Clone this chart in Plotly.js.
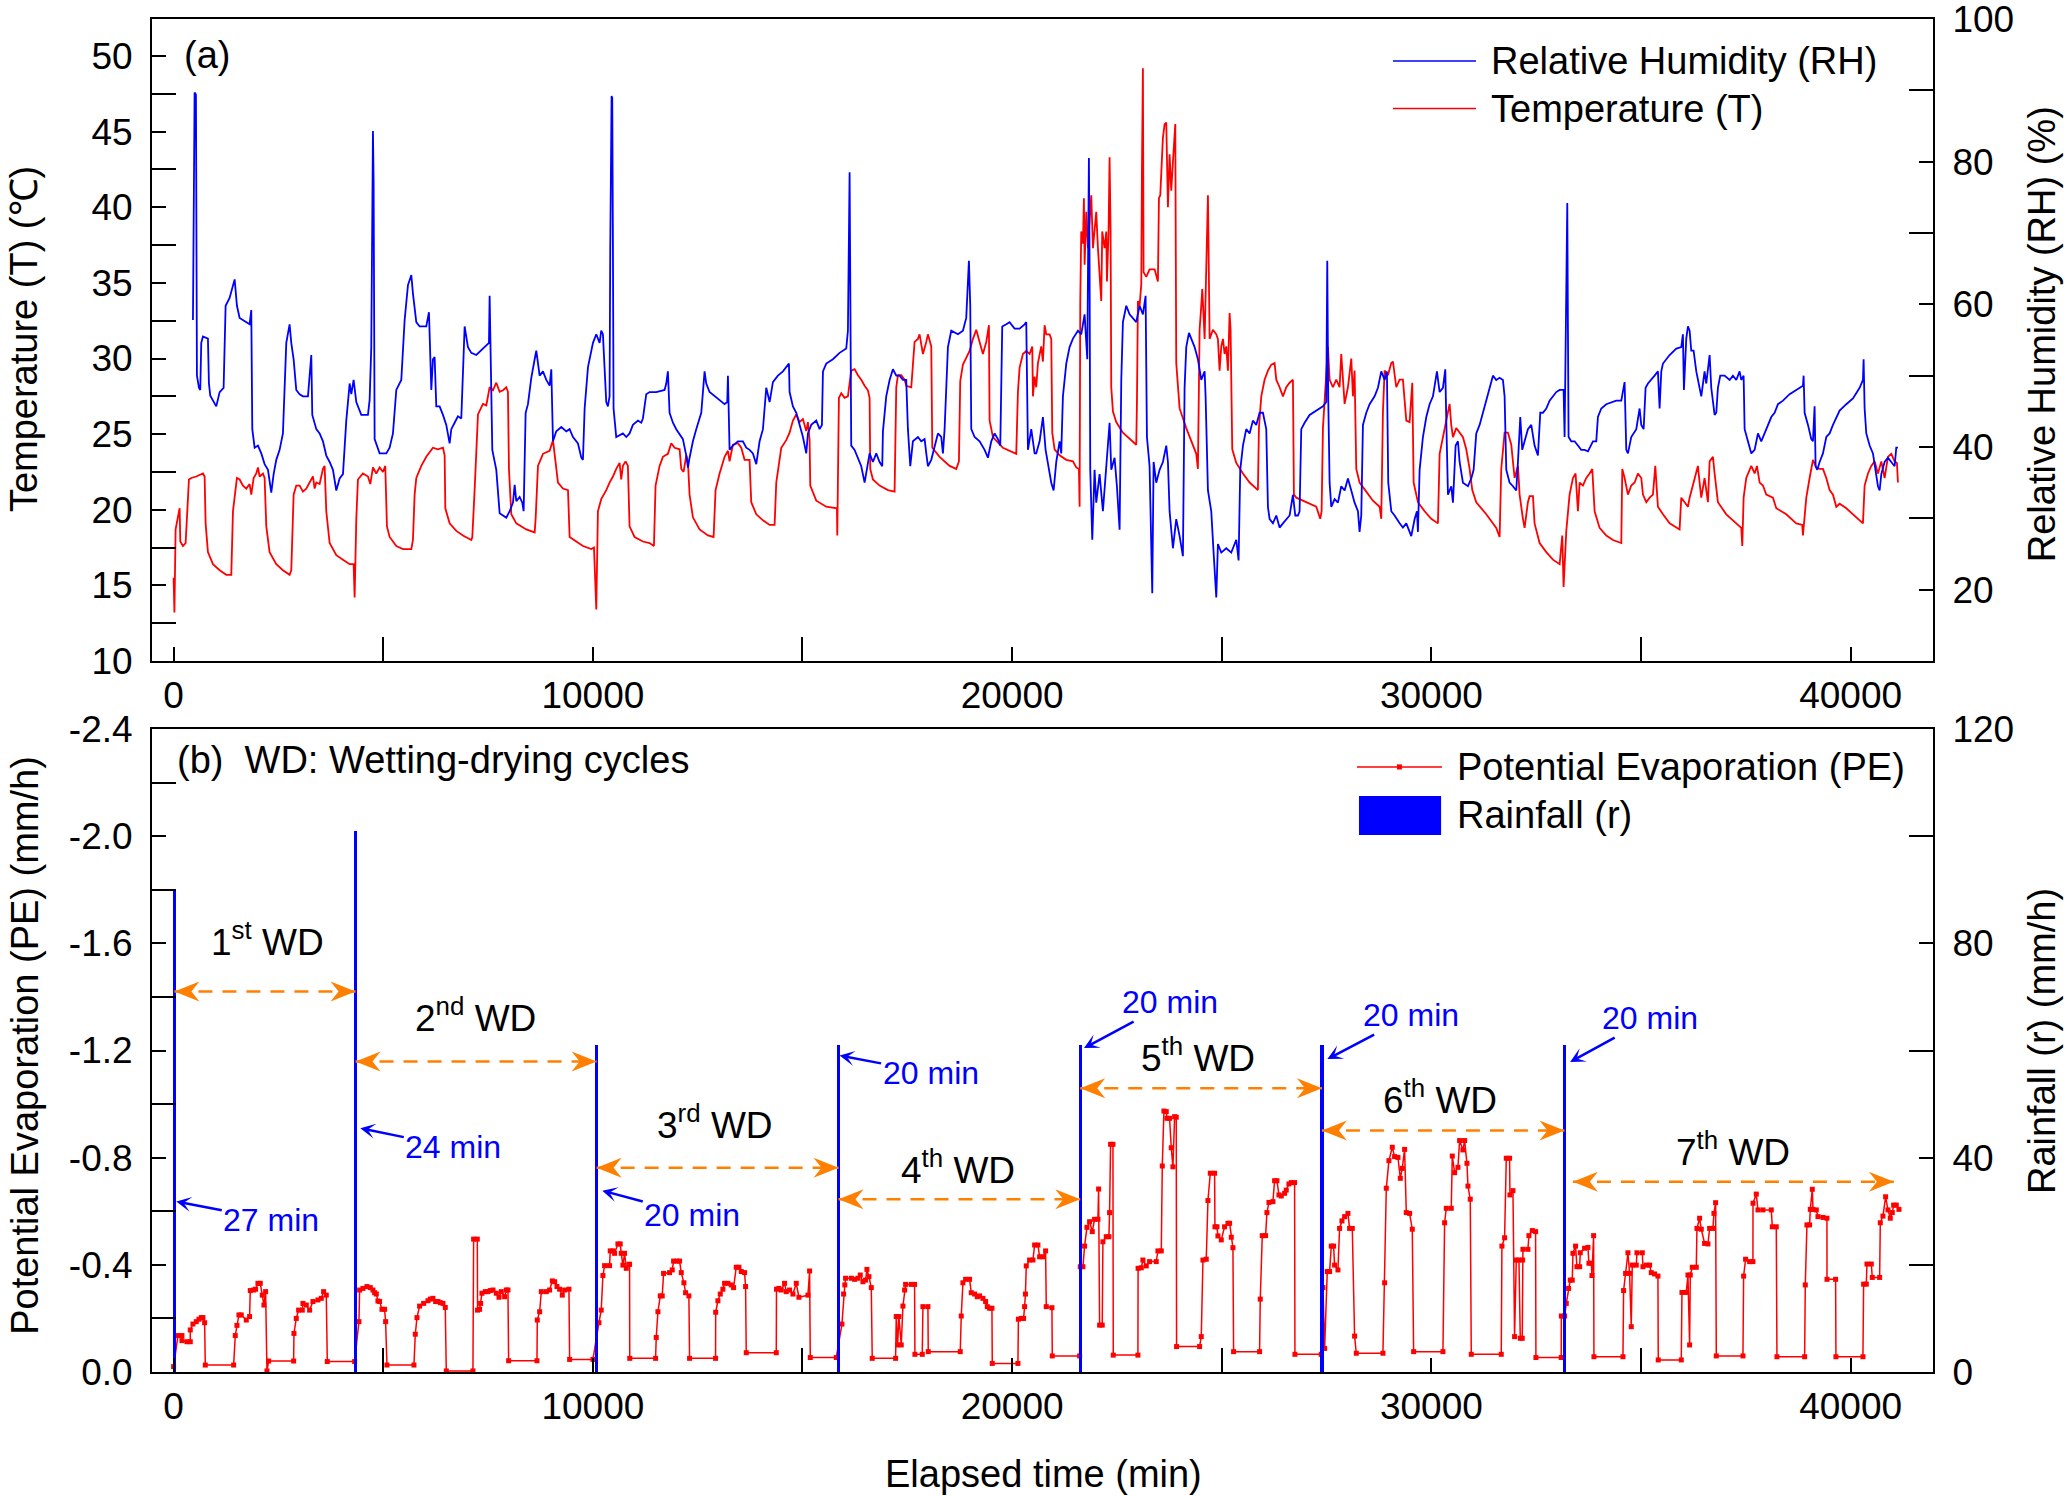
<!DOCTYPE html>
<html>
<head>
<meta charset="utf-8">
<script src="https://cdn.plot.ly/plotly-3.0.1.min.js"></script>
<style>
  body { margin: 0; background: #fff; }
  #chart { width: 2067px; height: 1496px; }
</style>
</head>
<body>
<div id="chart"></div>
<script>
// readings taken off the figure: [elapsed time (min), value]
var tempReadings = [
[0,15.5],[20,13.2],[48,18.7],[104,19.5],[144,20.1],[160,17.9],[223,17.6],[287,17.8],[318,19.5],[366,22.0],[422,22.1],[541,22.2],[700,22.4],[740,22.2],[764,19.1],[819,17.2],[939,16.4],[1098,16.0],[1257,15.7],[1376,15.7],[1416,19.9],[1511,22.1],[1575,22.0],[1654,21.6],[1734,21.4],[1813,21.7],[1853,21.0],[1909,22.1],[1972,22.4],[2012,22.8],[2052,22.2],[2131,22.4],[2171,22.1],[2211,18.9],[2290,17.2],[2449,16.4],[2608,16.0],[2767,15.7],[2807,16.0],[2863,21.0],[2926,21.6],[3006,21.6],[3085,21.2],[3165,21.4],[3244,21.8],[3324,22.2],[3364,21.4],[3404,21.8],[3483,21.7],[3563,22.7],[3602,22.9],[3642,19.9],[3722,17.8],[3881,17.0],[4040,16.7],[4199,16.4],[4294,16.4],[4318,14.2],[4358,19.4],[4397,22.0],[4516,22.4],[4636,22.2],[4692,21.7],[4755,22.8],[4835,22.4],[4914,22.8],[4994,22.5],[5049,22.9],[5089,18.9],[5153,18.2],[5312,17.6],[5471,17.4],[5670,17.4],[5709,18.0],[5749,21.0],[5789,22.1],[5908,22.9],[6027,23.5],[6186,24.1],[6306,24.0],[6425,24.1],[6465,23.6],[6481,20.1],[6584,19.1],[6743,18.6],[6902,18.3],[7101,18.0],[7125,18.2],[7180,21.3],[7260,26.3],[7379,27.0],[7459,26.9],[7538,28.1],[7618,27.9],[7697,28.4],[7777,27.8],[7856,27.9],[7936,28.1],[7975,27.8],[7999,22.7],[8055,19.7],[8174,19.1],[8413,18.7],[8612,18.5],[8635,19.4],[8691,22.9],[8810,23.7],[8969,23.9],[9049,24.6],[9112,23.2],[9168,21.8],[9287,21.4],[9407,21.3],[9446,18.2],[9605,17.9],[9764,17.6],[9963,17.4],[10027,17.5],[10082,13.4],
[10121,19.9],[10200,20.7],[10320,21.3],[10399,21.8],[10479,22.2],[10558,22.7],[10638,23.1],[10677,22.0],[10717,22.9],[10781,23.2],[10836,22.9],[10876,18.9],[10995,18.2],[11194,17.9],[11353,17.8],[11457,17.6],[11496,21.6],[11592,22.9],[11671,23.5],[11790,23.7],[11870,24.4],[11950,24.1],[12069,24.0],[12109,22.7],[12164,22.5],[12228,23.6],[12268,23.2],[12307,21.0],[12387,19.5],[12546,18.7],[12745,18.3],[12880,18.2],[12927,21.3],[13023,22.4],[13142,23.5],[13222,23.9],[13261,23.2],[13341,24.3],[13460,24.4],[13540,24.1],[13619,23.3],[13738,23.3],[13778,20.5],[13898,19.7],[14057,19.3],[14216,19.0],[14335,19.0],[14375,21.8],[14494,24.1],[14613,24.6],[14693,25.1],[14772,25.9],[14852,26.3],[14931,25.8],[15011,26.0],[15090,25.2],[15130,25.8],[15170,24.6],[15186,21.6],[15329,20.6],[15567,20.2],[15822,20.1],[15830,18.3],[15869,27.4],[15925,27.7],[16004,27.4],[16084,27.5],[16163,29.2],[16243,29.3],[16323,28.9],[16402,28.6],[16482,28.2],[16561,27.9],[16601,27.4],[16617,22.7],[16680,22.0],[16839,21.6],[17038,21.3],[17197,21.2],[17237,28.1],[17277,28.9],[17356,28.9],[17436,28.6],[17475,28.2],[17595,28.1],[17674,31.1],[17754,31.3],[17793,31.6],[17873,30.3],[17953,31.1],[17992,31.6],[18072,30.8],[18096,24.1],[18271,23.5],[18509,22.9],[18668,22.7],[18732,23.2],[18763,28.5],[18827,29.6],[18986,30.5],[19066,31.3],[19145,31.9],[19225,31.1],[19304,30.3],[19384,31.1],[19447,32.2],[19463,25.9],[19543,24.8],[19781,24.1],[19940,23.9],[20099,23.7],[20139,27.8],[20179,29.4],[20258,30.3],[20338,30.5],[20417,30.3],[20481,30.8],
[20497,27.5],[20536,28.8],[20576,28.1],[20616,29.7],[20695,30.8],[20735,29.8],[20775,32.2],[20815,31.6],[20894,31.6],[20934,31.3],[20958,25.1],[21013,24.0],[21133,23.6],[21292,23.3],[21451,23.2],[21530,22.8],[21594,22.7],[21610,20.2],[21626,33.8],[21649,38.4],[21689,37.6],[21713,40.6],[21729,36.2],[21769,39.7],[21808,37.3],[21848,38.9],[21888,40.8],[21928,37.3],[21967,38.7],[22007,39.7],[22047,37.3],[22087,35.7],[22126,33.8],[22150,38.4],[22206,37.3],[22246,38.4],[22262,35.1],[22301,38.4],[22325,43.3],[22349,38.4],[22365,28.1],[22405,26.5],[22484,25.8],[22643,25.1],[22802,24.7],[22961,24.3],[22977,27.0],[23001,33.8],[23041,33.5],[23081,34.9],[23097,42.5],[23120,49.2],[23136,35.7],[23200,35.4],[23279,35.9],[23399,35.9],[23438,35.5],[23478,35.1],[23502,40.6],[23534,40.8],[23597,44.6],[23637,45.5],[23677,45.6],[23717,40.0],[23756,43.5],[23796,41.1],[23836,43.0],[23892,45.5],[23915,29.7],[23995,26.7],[24154,25.4],[24313,24.3],[24393,23.7],[24432,22.7],[24456,30.8],[24472,31.9],[24512,33.5],[24536,34.6],[24592,31.3],[24631,36.2],[24671,40.8],[24711,31.3],[24790,31.9],[24870,31.6],[24909,31.3],[24949,29.2],[24989,30.8],[25029,31.3],[25068,30.3],[25108,30.8],[25148,29.2],[25188,33.0],[25211,31.9],[25251,24.0],[25347,23.1],[25506,22.4],[25665,21.8],[25863,21.3],[25887,25.4],[25943,27.5],[26022,28.6],[26102,29.2],[26182,29.6],[26261,29.7],[26301,28.6],[26380,28.1],[26460,27.5],[26539,28.1],[26619,28.4],[26698,28.6],[26722,21.0],[26778,20.8],[26937,20.6],[27096,20.4],[27255,20.2],[27350,19.4],[27382,19.9],[27414,25.4],[27493,29.2],[27533,30.8],[27573,28.6],[27652,28.1],[27732,28.6],[27811,28.1],[27851,30.3],[27931,27.0],[28010,28.1],[28090,30.0],[28129,27.5],[28169,29.2],[28209,22.7],[28288,21.8],[28447,21.2],[28606,20.6],[28766,20.2],[28805,19.4],[28845,26.5],[28885,29.2],[28964,28.9],[29044,29.7],[29084,29.8],[29163,28.1],[29243,28.6],[29322,28.6],[29402,25.9],[29481,25.8],[29545,28.4],[29577,21.8],[29680,20.5],[29839,19.9],[29998,19.4],[30157,19.1],[30197,23.7],[30276,24.8],[30356,25.9],[30435,27.0],[30475,25.6],[30515,24.8],[30594,25.4],[30674,25.1],[30753,24.8],[30833,24.0],[30912,22.7],[30976,21.3],[31071,20.5],
[31310,19.7],[31548,18.8],[31628,18.2],[31667,22.7],[31747,25.1],[31826,25.1],[31906,24.3],[31985,22.1],[32065,22.9],[32105,21.0],[32184,19.4],[32224,18.8],[32303,20.5],[32343,20.9],[32423,20.9],[32462,19.1],[32582,17.8],[32741,17.2],[32900,16.7],[33060,16.4],[33122,18.3],[33154,14.9],[33218,18.6],[33297,21.0],[33377,22.1],[33440,22.4],[33496,19.9],[33536,21.8],[33615,21.6],[33695,22.1],[33774,22.4],[33838,22.7],[33894,19.9],[34013,18.8],[34172,18.3],[34331,18.0],[34530,17.8],[34554,22.7],[34609,22.1],[34689,21.0],[34768,21.6],[34848,21.8],[34927,22.4],[35007,22.1],[35047,21.0],[35126,20.5],[35206,20.8],[35285,21.0],[35341,22.9],[35404,20.2],[35524,19.7],[35683,19.1],[35921,18.7],[35961,20.8],[36040,20.5],[36120,20.2],[36160,20.8],[36279,22.1],[36358,22.9],[36398,21.8],[36438,20.8],[36517,22.1],[36597,20.5],[36637,23.2],[36716,23.5],[36756,22.4],[36835,20.5],[37034,19.7],[37273,19.1],[37392,18.8],[37416,17.6],[37448,20.8],[37511,22.1],[37631,22.9],[37710,22.4],[37766,22.9],[37830,21.8],[37909,21.6],[37988,21.0],[38068,20.9],[38147,20.8],[38227,20.1],[38465,19.7],[38704,19.1],[38847,19.0],[38863,18.3],[38943,20.8],[39022,22.1],[39102,23.3],[39181,22.8],[39261,22.7],[39340,22.7],[39420,22.1],[39499,21.3],[39579,21.0],[39658,20.2],[39738,20.4],[39897,20.1],[40056,19.7],[40215,19.3],[40294,19.1],[40334,21.6],[40414,22.4],[40493,22.9],[40573,23.2],[40652,22.4],[40732,23.2],[40811,22.1],[40891,23.5],[40970,23.7],[41050,23.2],[41105,23.1],[41129,21.8]
];

var rhReadings = [
[462,57.8],[485,77.6],[501,89.7],[533,89.4],[541,59.8],[557,50.0],[605,48.3],[636,48.0],[660,54.6],[700,55.5],[819,55.2],[843,48.9],[875,47.2],[939,46.6],[1018,45.7],[1098,47.7],[1193,48.3],[1241,59.8],[1336,60.9],[1456,63.5],[1511,59.8],[1575,58.1],[1734,57.5],[1813,57.2],[1853,59.2],[1877,42.5],[1933,39.9],[2012,40.2],[2092,39.1],[2171,37.6],[2251,36.8],[2330,33.6],[2386,36.2],[2449,38.2],[2529,39.6],[2608,41.9],[2688,54.6],[2767,57.2],[2807,54.6],[2863,52.3],[2926,48.0],[3006,47.4],[3085,47.1],[3205,47.1],[3284,52.9],[3308,44.5],[3404,42.5],[3483,41.9],[3563,40.8],[3642,38.8],[3722,37.9],[3801,36.8],[3881,33.9],[3960,35.6],[4040,36.2],[4119,43.7],[4199,48.9],[4239,47.4],[4294,49.4],[4358,46.3],[4477,44.5],[4636,44.5],[4676,46.6],[4715,54.0],[4755,84.3],[4771,77.1],[4795,41.1],[4914,39.1],[5073,39.1],[5153,39.9],[5232,41.9],[5312,48.0],[5431,49.4],[5511,57.8],[5590,62.7],[5670,64.1],[5709,61.5],[5789,57.5],[5868,56.9],[6027,56.9],[6091,58.9],[6147,48.0],[6186,52.3],[6226,52.6],[6266,45.7],[6345,45.7],[6425,44.5],[6504,43.1],[6584,40.5],[6624,42.5],[6703,43.4],[6782,44.3],[6862,44.0],[6902,51.2],[6942,56.9],[7021,54.0],[7101,53.2],[7220,52.9],[7379,53.8],[7522,54.6],[7538,61.2],[7554,54.0],[7602,39.6],[7697,36.8],[7777,30.7],[7856,30.4],[7936,30.1],[8016,31.0],[8095,32.2],[8135,34.7],[8174,32.4],[8254,33.0],[8317,32.2],[8349,31.0],[8397,44.8],[8452,46.0],[8532,49.7],[8612,52.3],[8651,53.5],[8731,50.0],[8810,50.6],[8890,49.4],[8969,48.6],[9009,50.9],[9049,40.8],[9128,42.2],[9248,42.8],[9367,42.2],[9446,42.5],[9526,41.4],[9645,40.5],[9725,38.5],[9764,38.2],[9804,45.4],[9884,51.2],[10003,54.6],[10082,55.8],
[10161,54.6],[10200,56.3],[10240,55.8],[10280,50.9],[10320,46.3],[10359,45.7],[10399,47.1],[10415,67.9],[10447,89.2],[10463,88.9],[10479,67.9],[10494,45.4],[10558,41.4],[10638,41.7],[10717,41.9],[10797,41.4],[10876,41.9],[10956,43.1],[11075,43.7],[11154,43.4],[11194,44.0],[11274,47.4],[11353,47.7],[11512,47.7],[11711,48.0],[11751,48.9],[11790,50.6],[11830,44.8],[11910,43.4],[11989,42.5],[12069,41.7],[12148,41.1],[12228,38.8],[12268,37.1],[12307,38.5],[12387,40.8],[12466,42.5],[12586,44.8],[12665,50.6],[12705,48.9],[12784,47.7],[12904,47.1],[13023,46.6],[13142,46.0],[13206,46.3],[13222,50.0],[13261,39.6],[13341,40.2],[13460,40.8],[13579,40.8],[13659,39.9],[13738,39.6],[13818,39.1],[13898,37.6],[13977,40.8],[14057,42.5],[14136,48.3],[14216,46.3],[14295,49.1],[14414,50.0],[14534,50.6],[14613,51.2],[14677,51.7],[14693,47.7],[14772,45.7],[14852,44.8],[14931,43.1],[15011,41.4],[15090,39.1],[15130,41.9],[15209,43.1],[15329,43.7],[15408,42.5],[15464,43.1],[15488,50.6],[15567,51.7],[15726,52.3],[15885,53.2],[16044,53.8],[16084,56.3],[16124,78.5],[16140,55.2],[16163,40.2],[16243,39.6],[16323,38.5],[16402,37.3],[16482,35.0],[16537,37.1],[16601,39.1],[16680,37.9],[16760,39.1],[16839,37.9],[16903,37.3],[16919,42.2],[16998,47.1],[17078,49.4],[17157,50.9],[17237,50.0],[17316,50.0],[17396,49.4],[17475,49.4],[17515,42.5],[17571,37.3],[17634,40.8],[17754,41.4],[17833,40.8],[17913,41.1],[17953,39.1],[17992,37.3],[18072,38.2],[18151,40.2],[18231,41.9],[18310,41.4],[18350,39.1],[18390,42.5],[18469,54.0],[18549,56.3],[18628,56.0],[18708,55.8],[18827,56.3],[18906,58.1],[18970,66.1],[19002,59.8],[19026,42.5],[19106,41.4],[19225,40.8],[19344,39.6],[19424,38.5],[19503,40.8],[19583,41.9],[19662,41.1],[19718,40.2],[19765,56.9],[19861,57.2],[19940,57.5],[20059,56.6],[20179,56.6],[20298,57.2],[20338,57.5],[20378,39.6],[20457,42.5],[20537,39.1],
[20576,39.1],[20656,40.8],[20735,44.2],[20799,39.6],[20854,37.9],[20934,35.0],[20990,33.9],[21053,37.9],[21133,40.8],[21172,39.1],[21212,47.1],[21252,50.0],[21292,51.7],[21371,54.0],[21451,55.2],[21570,56.3],[21649,55.8],[21729,58.6],[21769,54.0],[21793,52.3],[21808,63.2],[21832,80.5],[21848,65.5],[21864,36.8],[21912,27.0],[21967,36.8],[22007,32.2],[22087,36.2],[22166,31.0],[22246,37.9],[22325,43.4],[22365,36.8],[22444,38.5],[22500,34.5],[22564,28.4],[22604,49.4],[22643,57.5],[22723,59.8],[22802,58.6],[22961,57.5],[23041,59.8],[23120,58.6],[23184,61.2],[23216,41.4],[23279,37.3],[23343,19.5],[23375,37.9],[23438,35.0],[23518,36.8],[23597,37.9],[23677,40.2],[23717,37.9],[23756,31.0],[23836,25.8],[23915,29.9],[23995,27.5],[24074,24.7],[24114,48.3],[24154,54.0],[24218,56.0],[24273,55.2],[24353,54.0],[24432,52.3],[24512,49.4],[24592,50.6],[24615,47.1],[24671,33.9],[24750,31.0],[24806,25.2],[24870,18.9],[24909,26.4],[24989,25.2],[25108,25.8],[25227,25.2],[25347,27.0],[25402,24.1],[25442,36.8],[25506,40.2],[25585,42.5],[25665,41.9],[25744,43.7],[25824,43.1],[25903,44.8],[25983,44.8],[26062,42.5],[26102,31.6],[26142,29.9],[26221,29.3],[26301,30.4],[26380,28.7],[26460,29.3],[26539,29.9],[26619,30.4],[26698,33.3],[26754,30.4],[26818,30.4],[26857,31.0],[26897,42.5],[26977,43.4],[27096,44.5],[27255,45.1],[27414,45.7],[27493,46.3],[27517,66.1],[27541,46.6],[27573,35.0],[27613,31.6],[27692,32.7],[27772,32.2],[27851,34.5],[27931,33.9],[28010,35.6],[28090,33.9],[28169,32.2],[28249,31.0],[28288,28.1],[28328,30.4],[28368,43.1],[28448,44.8],[28527,46.0],[28646,47.1],[28726,48.3],[28805,50.6],[28885,49.4],[28940,50.6],[28972,35.0],[29044,31.0],[29123,30.4],[29243,29.3],[29322,28.7],[29402,29.3],[29481,28.1],[29521,27.5],[29601,29.9],[29656,31.0],[29680,28.1],[29720,36.8],[29799,41.4],[29879,44.2],[29958,46.0],[30038,47.1],[30133,50.6],[30197,47.7],[30276,48.3],[30332,50.9],[30356,43.7],[30396,33.3],[30475,34.5],[30515,32.2],[30579,40.2],[30634,40.8],[30674,37.9],[30753,35.0],[30873,34.5],[30952,35.6],[31008,36.8],[31071,41.9],[31151,43.1],
[31230,44.8],[31310,46.5],[31389,48.3],[31469,50.0],[31548,49.4],[31628,49.7],[31707,49.4],[31747,47.1],[31787,36.8],[31866,35.0],[31946,34.5],[32025,33.9],[32065,37.9],[32121,44.2],[32168,39.6],[32224,40.8],[32303,42.5],[32383,43.1],[32462,40.2],[32542,38.8],[32598,44.8],[32661,44.8],[32741,45.4],[32820,46.5],[32900,47.1],[32979,47.7],[33059,48.0],[33154,48.0],[33178,41.4],[33218,58.1],[33242,74.2],[33258,56.3],[33273,41.4],[33337,40.8],[33417,40.8],[33496,40.2],[33575,39.6],[33655,39.6],[33735,39.4],[33854,40.8],[33933,40.8],[33973,44.2],[34053,45.4],[34172,46.0],[34291,46.3],[34410,46.5],[34530,46.5],[34609,49.1],[34649,39.6],[34689,39.1],[34768,41.4],[34888,42.5],[34967,45.4],[35007,43.1],[35063,42.5],[35110,48.3],[35166,48.9],[35245,49.4],[35325,50.0],[35404,50.6],[35444,45.4],[35484,50.6],[35524,51.7],[35683,52.9],[35842,53.8],[35961,54.0],[36000,55.8],[36024,48.0],[36080,55.2],[36120,56.9],[36160,56.3],[36199,53.5],[36255,53.5],[36319,50.6],[36398,48.3],[36438,47.1],[36517,50.6],[36557,48.9],[36637,52.9],[36676,48.3],[36756,44.5],[36796,44.8],[36835,48.3],[36891,50.0],[36994,50.0],[37114,49.4],[37193,50.0],[37273,49.4],[37352,50.6],[37392,49.4],[37448,50.0],[37472,42.5],[37551,40.8],[37631,39.1],[37710,39.6],[37790,41.9],[37869,40.8],[37949,41.9],[38028,43.1],[38108,44.2],[38187,44.8],[38267,46.0],[38386,46.5],[38545,47.4],[38704,48.0],[38863,48.6],[38879,50.0],[38903,44.8],[38983,43.1],[39062,41.1],[39102,40.8],[39141,45.7],[39165,37.3],[39205,36.8],[39261,37.9],[39340,39.1],[39420,41.4],[39499,41.9],[39579,43.1],[39658,44.2],[39738,45.1],[39897,46.0],[40056,46.8],[40215,48.3],[40294,49.4],[40310,52.3],[40334,45.4],[40374,41.9],[40454,40.2],[40533,39.1],[40597,36.8],[40652,34.5],[40692,33.9],[40732,36.2],[40811,37.9],[40891,38.5],[40970,37.9],[41050,37.3],[41089,39.9],[41129,39.9]
];

var peReadings = [
[0,-0.02],[104,-0.136],[199,-0.136],[199,-0.117],[318,-0.113],[398,-0.113],[398,-0.157],[462,-0.179],[541,-0.188],[605,-0.197],[660,-0.203],[700,-0.203],[740,-0.184],[756,-0.026],[1432,-0.026],[1471,-0.136],[1511,-0.174],[1559,-0.213],[1614,-0.213],[1734,-0.194],[1813,-0.207],[1829,-0.304],[1909,-0.306],[1956,-0.309],[2012,-0.331],[2068,-0.331],[2115,-0.287],[2155,-0.250],[2195,-0.300],[2227,-0.004],[2267,-0.041],[2863,-0.041],[2871,-0.144],[2926,-0.200],[2982,-0.231],[3070,-0.231],[3085,-0.256],[3165,-0.250],[3244,-0.231],[3324,-0.263],[3443,-0.269],[3523,-0.275],[3578,-0.300],[3642,-0.287],[3666,-0.039],[4318,-0.039],
[4421,-0.188],[4437,-0.306],[4516,-0.312],[4612,-0.319],[4692,-0.315],[4755,-0.306],[4795,-0.296],[4835,-0.291],[4874,-0.265],[4914,-0.263],[4970,-0.234],[5033,-0.234],[5057,-0.188],[5089,-0.026],[5733,-0.026],[5765,-0.141],[5805,-0.203],[5868,-0.246],[5964,-0.256],[6067,-0.266],[6123,-0.272],[6186,-0.275],[6250,-0.263],[6306,-0.263],[6361,-0.259],[6425,-0.256],[6480,-0.241],[6504,-0.004],[7140,-0.004],[7156,-0.496],[7244,-0.496],[7250,-0.231],[7299,-0.234],[7323,-0.256],[7355,-0.294],[7435,-0.300],[7498,-0.300],[7554,-0.304],[7618,-0.306],[7697,-0.294],[7761,-0.279],[7816,-0.300],[7896,-0.281],[7936,-0.306],[7975,-0.306],[7991,-0.042],[8667,-0.042],[8675,-0.194],[8731,-0.225],[8771,-0.300],[8890,-0.300],[8969,-0.306],[9033,-0.340],[9088,-0.337],[9144,-0.319],[9208,-0.309],[9271,-0.287],[9327,-0.306],[9430,-0.309],[9446,-0.047],[10002,-0.047],
[10145,-0.184],[10200,-0.231],[10240,-0.360],[10280,-0.397],[10399,-0.397],[10415,-0.452],[10479,-0.452],[10518,-0.443],[10598,-0.478],[10653,-0.478],[10677,-0.443],[10717,-0.399],[10757,-0.443],[10797,-0.387],[10860,-0.402],[10876,-0.402],[10880,-0.051],[11496,-0.051],[11512,-0.129],[11552,-0.225],[11608,-0.284],[11655,-0.284],[11687,-0.368],[11830,-0.371],[11894,-0.381],[11926,-0.414],[12005,-0.414],[12069,-0.414],[12109,-0.371],[12172,-0.333],[12212,-0.296],[12291,-0.284],[12307,-0.051],[12927,-0.051],[12930,-0.223],[12983,-0.266],[13039,-0.291],[13102,-0.309],[13142,-0.331],[13222,-0.331],[13301,-0.325],[13357,-0.315],[13420,-0.391],[13484,-0.391],[13540,-0.375],[13619,-0.371],[13643,-0.319],[13659,-0.072],[14375,-0.072],[14380,-0.309],[14438,-0.312],[14494,-0.306],[14573,-0.331],[14613,-0.300],[14693,-0.306],[14772,-0.291],[14852,-0.331],[14915,-0.279],[15130,-0.287],[15170,-0.377],[15186,-0.054],[15806,-0.054],
[15941,-0.179],[15981,-0.291],[16010,-0.325],[16028,-0.350],[16164,-0.350],[16243,-0.346],[16323,-0.350],[16378,-0.362],[16442,-0.337],[16505,-0.343],[16537,-0.383],[16585,-0.356],[16641,-0.315],[16664,-0.051],[17221,-0.051],[17237,-0.207],[17269,-0.101],[17300,-0.207],[17356,-0.101],[17396,-0.246],[17436,-0.306],[17460,-0.327],[17595,-0.327],[17674,-0.327],[17682,-0.066],[17857,-0.066],[17873,-0.244],[17992,-0.244],[18000,-0.076],[18763,-0.076],[18787,-0.209],[18827,-0.333],[18891,-0.346],[18986,-0.346],[19026,-0.296],[19106,-0.291],[19169,-0.281],[19225,-0.284],[19304,-0.275],[19368,-0.263],[19408,-0.244],[19463,-0.238],[19519,-0.238],[19527,-0.032],[20139,-0.032],[20150,-0.197],[20218,-0.200],[20274,-0.200],[20298,-0.244],[20318,-0.291],[20338,-0.396],[20417,-0.418],[20497,-0.418],[20537,-0.474],[20616,-0.474],[20656,-0.430],[20735,-0.430],[20799,-0.452],[20815,-0.244],[20950,-0.240],[20958,-0.060],[21610,-0.060],
[21626,-0.393],[21689,-0.393],[21729,-0.470],[21785,-0.540],[21848,-0.561],[21912,-0.524],[21967,-0.570],[22047,-0.570],[22063,-0.683],[22087,-0.175],[22150,-0.175],[22166,-0.486],[22246,-0.505],[22309,-0.505],[22325,-0.595],[22349,-0.850],[22405,-0.850],[22413,-0.063],[23001,-0.063],[23005,-0.387],[23081,-0.389],[23120,-0.418],[23200,-0.396],[23279,-0.412],[23438,-0.412],[23478,-0.452],[23558,-0.452],[23582,-0.769],[23621,-0.974],[23677,-0.972],[23693,-0.947],[23756,-0.947],[23796,-0.837],[23836,-0.766],[23876,-0.953],[23915,-0.951],[23923,-0.095],[24472,-0.095],[24512,-0.132],[24552,-0.418],[24631,-0.421],[24671,-0.640],[24727,-0.742],[24830,-0.742],[24838,-0.542],[24886,-0.542],[24909,-0.508],[24989,-0.493],[25068,-0.542],[25148,-0.555],[25188,-0.555],[25227,-0.503],[25267,-0.464],[25283,-0.076],[25903,-0.076],[25919,-0.272],[25967,-0.509],[26046,-0.509],[26078,-0.595],[26126,-0.633],[26221,-0.636],[26261,-0.714],[26317,-0.714],[26364,-0.661],[26420,-0.657],[26500,-0.667],[26539,-0.679],[26603,-0.702],[26659,-0.707],[26738,-0.707],[26746,-0.066],[27374,-0.066],
[27414,-0.315],[27454,-0.088],[27517,-0.375],[27573,-0.375],[27613,-0.470],[27668,-0.470],[27692,-0.399],[27772,-0.381],[27811,-0.536],[27867,-0.564],[27931,-0.580],[28010,-0.592],[28050,-0.536],[28114,-0.536],[28169,-0.134],[28209,-0.070],[28845,-0.070],[28885,-0.333],[28925,-0.686],[28988,-0.789],[29068,-0.839],[29123,-0.804],[29203,-0.801],[29259,-0.723],[29306,-0.760],[29362,-0.831],[29402,-0.595],[29481,-0.592],[29545,-0.533],[29577,-0.076],[30276,-0.076],[30316,-0.557],[30356,-0.611],[30475,-0.611],[30499,-0.806],[30555,-0.744],[30634,-0.764],[30674,-0.864],[30753,-0.829],[30793,-0.864],[30849,-0.779],[30873,-0.694],[30928,-0.645],[30952,-0.066],[31667,-0.066],[31683,-0.470],[31747,-0.501],[31787,-0.798],[31866,-0.798],[31874,-0.661],[31946,-0.677],[31985,-0.132],[32025,-0.418],[32089,-0.418],[32121,-0.126],[32168,-0.126],[32176,-0.418],[32184,-0.458],[32303,-0.458],[32327,-0.509],[32407,-0.528],[32486,-0.524],[32494,-0.054],[33097,-0.054],[33100,-0.209],[33178,-0.209],
[33218,-0.256],[33273,-0.312],[33313,-0.343],[33361,-0.343],[33377,-0.443],[33440,-0.470],[33472,-0.393],[33536,-0.393],[33552,-0.445],[33655,-0.462],[33735,-0.465],[33758,-0.406],[33814,-0.406],[33830,-0.360],[33870,-0.509],[33878,-0.057],[34570,-0.057],[34585,-0.304],[34633,-0.368],[34689,-0.445],[34728,-0.368],[34768,-0.169],[34792,-0.399],[34888,-0.399],[34904,-0.445],[35031,-0.445],[35047,-0.393],[35126,-0.399],[35206,-0.399],[35245,-0.371],[35325,-0.366],[35404,-0.358],[35412,-0.045],[35961,-0.045],[35977,-0.297],[36080,-0.297],[36120,-0.362],[36160,-0.101],[36176,-0.362],[36223,-0.391],[36319,-0.391],[36335,-0.536],[36398,-0.574],[36438,-0.533],[36517,-0.480],[36597,-0.478],[36637,-0.536],[36716,-0.536],[36740,-0.592],[36780,-0.632],[36796,-0.060],[37432,-0.060],[37448,-0.358],[37495,-0.421],[37591,-0.412],[37670,-0.412],[37672,-0.630],[37750,-0.664],[37790,-0.605],[37909,-0.605],[38108,-0.605],[38132,-0.542],[38227,-0.542],[38243,-0.057],[38903,-0.057],[38919,-0.325],[38958,-0.549],[39022,-0.549],[39038,-0.607],[39086,-0.682],[39102,-0.607],[39181,-0.605],[39221,-0.580],[39340,-0.577],[39435,-0.574],[39437,-0.346],[39642,-0.346],[39650,-0.057],[40294,-0.057],[40310,-0.328],[40374,-0.328],[40390,-0.403],[40493,-0.403],[40517,-0.353],[40692,-0.353],[40708,-0.557],[40771,-0.582],[40835,-0.654],[40891,-0.605],[40946,-0.574],[40994,-0.595],[41026,-0.623],[41089,-0.623],[41153,-0.607]
];

// rainfall events (start of each wetting stage)
var rainTime = [20, 4340, 10090, 15860, 21625, 27390, 33175];
var rainRate = [90, 101, 61, 61, 61, 61, 61];
var rainLabels = ['27 min', '24 min', '20 min', '20 min', '20 min', '20 min', '20 min'];

// wetting-drying cycles
var wdNames = ['1<sup>st</sup> WD', '2<sup>nd</sup> WD', '3<sup>rd</sup> WD', '4<sup>th</sup> WD',
               '5<sup>th</sup> WD', '6<sup>th</sup> WD', '7<sup>th</sup> WD'];
var wdStart = [20, 4340, 10090, 15860, 21625, 27390, 33376];
var wdEnd = [4340, 10090, 15860, 21625, 27390, 33175, 41031];

var peTickVals = [0, -0.4, -0.8, -1.2, -1.6, -2.0, -2.4];
var peTickText = ['0.0', '-0.4', '-0.8', '-1.2', '-1.6', '-2.0', '-2.4'];

var RED = '#FF0000', BLUE = '#0000FF', ORANGE = '#FF8000';
var FONT = 'Arial, "Liberation Sans", sans-serif';
var xRange = [-515, 41965];

function col(rows, i) {
  return rows.map(function (r) { return r[i]; });
}

function axisStyle(extra) {
  var base = {
    showline: true, linecolor: 'black', linewidth: 2,
    ticks: 'inside', ticklen: 14, tickwidth: 2, tickcolor: 'black',
    showgrid: false, zeroline: false, fixedrange: true,
    ticklabeloverflow: 'allow',
    tickfont: {family: FONT, size: 37, color: 'black'},
    minor: {ticks: 'inside', ticklen: 24, tickwidth: 2, tickcolor: 'black', showgrid: false}
  };
  return Object.assign(base, extra);
}

var traces = [
  {
    x: col(tempReadings, 0), y: col(tempReadings, 1),
    xaxis: 'x', yaxis: 'y', mode: 'lines', name: 'Temperature (T)',
    line: {color: RED, width: 1.8}
  },
  {
    x: col(rhReadings, 0), y: col(rhReadings, 1),
    xaxis: 'x', yaxis: 'y2', mode: 'lines', name: 'Relative Humidity (RH)',
    line: {color: BLUE, width: 1.8}
  },
  {
    x: col(peReadings, 0), y: col(peReadings, 1),
    xaxis: 'x2', yaxis: 'y3', mode: 'lines+markers', name: 'Potential Evaporation (PE)',
    line: {color: RED, width: 1.5},
    marker: {symbol: 'square', size: 5, color: RED}
  },
  {
    type: 'bar', x: rainTime, y: rainRate, width: 80,
    xaxis: 'x2', yaxis: 'y4', name: 'Rainfall (r)',
    marker: {color: BLUE, line: {width: 0}}
  }
];

var xTicks = {
  tickmode: 'array', tickvals: [0, 10000, 20000, 30000, 40000],
  ticktext: ['0', '10000', '20000', '30000', '40000'], ticklabelstandoff: 1
};
var xMinor = {tickmode: 'array', tickvals: [5000, 15000, 25000, 35000]};

var layout = {
  width: 2067, height: 1496,
  margin: {l: 152, r: 134, t: 19, b: 124},
  paper_bgcolor: 'white', plot_bgcolor: 'white',
  font: {family: FONT, size: 37, color: 'black'},
  showlegend: false,
  bargap: 0,
  xaxis: axisStyle(Object.assign({anchor: 'y', domain: [0, 1], range: xRange, mirror: true}, xTicks)),
  yaxis: axisStyle({domain: [0.5255, 1], range: [10, 52.45], tickmode: 'linear', tick0: 10, dtick: 5, ticklabelstandoff: 10}),
  yaxis2: axisStyle({overlaying: 'y', side: 'right', anchor: 'x', range: [10, 100], tickmode: 'array',
                     tickvals: [20, 40, 60, 80, 100], ticktext: ['20', '40', '60', '80', '100'], ticklabelstandoff: 10}),
  xaxis2: axisStyle(Object.assign({anchor: 'y3', domain: [0, 1], range: xRange, mirror: true}, xTicks)),
  yaxis3: axisStyle({domain: [0, 0.4752], range: [0, -2.4], tickmode: 'array', tickvals: peTickVals, ticktext: peTickText, ticklabelstandoff: 10}),
  yaxis4: axisStyle({overlaying: 'y3', side: 'right', anchor: 'x2', range: [0, 120], tickmode: 'array',
                     tickvals: [0, 40, 80, 120], ticktext: ['0', '40', '80', '120'], ticklabelstandoff: 10}),
  shapes: [],
  annotations: []
};
layout.xaxis.minor = Object.assign({}, layout.xaxis.minor, xMinor);
layout.xaxis2.minor = Object.assign({}, layout.xaxis2.minor, xMinor);
layout.yaxis.minor = Object.assign({}, layout.yaxis.minor, {tickmode: 'array', tickvals: [12.5, 17.5, 22.5, 27.5, 32.5, 37.5, 42.5, 47.5, 52.5]});
layout.yaxis2.minor = Object.assign({}, layout.yaxis2.minor, {tickmode: 'array', tickvals: [10, 30, 50, 70, 90]});
layout.yaxis3.minor = Object.assign({}, layout.yaxis3.minor, {tickmode: 'array', tickvals: [-0.2, -0.6, -1.0, -1.4, -1.8, -2.2]});
layout.yaxis4.minor = Object.assign({}, layout.yaxis4.minor, {tickmode: 'array', tickvals: [20, 60, 100]});

var ann = layout.annotations, shp = layout.shapes;

function paperText(text, x, y, opts) {
  ann.push(Object.assign({
    text: text, xref: 'paper', yref: 'paper', x: x, y: y,
    showarrow: false, xanchor: 'center', yanchor: 'middle',
    font: {family: FONT, size: 38, color: 'black'}
  }, opts || {}));
}

// axis titles
paperText('Temperature (T) (\u2103)', -0.0718, 0.7635, {textangle: -90});
paperText('Relative Humidity (RH) (%)', 1.0612, 0.767, {textangle: -90});
paperText('Potential Evaporation (PE) (mm/h)', -0.0714, 0.2417, {textangle: -90});
paperText('Rainfall (r) (mm/h)', 1.0612, 0.2446, {textangle: -90});
paperText('Elapsed time (min)', 0.5008, -0.0754);

// panel labels
paperText('(a)', 0.0168, 0.9734, {xanchor: 'left'});
paperText('(b)\u00a0\u00a0WD: Wetting-drying cycles', 0.0129, 0.4523, {xanchor: 'left'});

// legend of panel (a)
shp.push({type: 'line', xref: 'paper', yref: 'paper', x0: 0.6968, x1: 0.7434, y0: 0.969, y1: 0.969, line: {color: BLUE, width: 1.5}});
shp.push({type: 'line', xref: 'paper', yref: 'paper', x0: 0.6968, x1: 0.7434, y0: 0.9338, y1: 0.9338, line: {color: RED, width: 1.5}});
paperText('Relative Humidity (RH)', 0.7507, 0.969, {xanchor: 'left'});
paperText('Temperature (T)', 0.7507, 0.9338, {xanchor: 'left'});

// legend of panel (b)
shp.push({type: 'line', xref: 'paper', yref: 'paper', x0: 0.6766, x1: 0.7243, y0: 0.4472, y1: 0.4472, line: {color: RED, width: 1.5}});
shp.push({type: 'rect', xref: 'paper', yref: 'paper', x0: 0.6990, x1: 0.7018, y0: 0.4453, y1: 0.4491, line: {width: 0}, fillcolor: RED});
shp.push({type: 'rect', xref: 'paper', yref: 'paper', x0: 0.6777, x1: 0.7238, y0: 0.3969, y1: 0.4257, line: {width: 0}, fillcolor: BLUE});
paperText('Potential Evaporation (PE)', 0.7316, 0.4472, {xanchor: 'left'});
paperText('Rainfall (r)', 0.7316, 0.4117, {xanchor: 'left'});

// cycle spans: dashed orange double arrows + labels
var wdLevel = [-1.42, -1.159, -0.762, -0.645, -1.059, -0.901, -0.710];
var wdLabelX = [2242, 7203, 12904, 18700, 24424, 30196, 37185];
var wdLabelY = [-1.616, -1.332, -0.933, -0.765, -1.183, -1.026, -0.829];
var headLeft = 'M0,0L25,-10L17,0L25,10Z';
var headRight = 'M0,0L-25,-10L-17,0L-25,10Z';
for (var i = 0; i < wdNames.length; i++) {
  shp.push({type: 'line', xref: 'x2', yref: 'y3', x0: wdStart[i], x1: wdEnd[i], y0: wdLevel[i], y1: wdLevel[i],
            line: {color: ORANGE, width: 2.5, dash: '14px,10px'}});
  shp.push({type: 'path', xref: 'x2', yref: 'y3', xsizemode: 'pixel', ysizemode: 'pixel',
            xanchor: wdStart[i], yanchor: wdLevel[i], path: headLeft, fillcolor: ORANGE, line: {width: 0}});
  shp.push({type: 'path', xref: 'x2', yref: 'y3', xsizemode: 'pixel', ysizemode: 'pixel',
            xanchor: wdEnd[i], yanchor: wdLevel[i], path: headRight, fillcolor: ORANGE, line: {width: 0}});
  ann.push({xref: 'x2', yref: 'y3', x: wdLabelX[i], y: wdLabelY[i], text: wdNames[i], showarrow: false,
            font: {family: FONT, size: 37, color: 'black'}});
}

// rain duration callouts
var calloutX = [64, 4453, 10225, 15885, 21715, 27520, 33310];
var calloutY = [-0.636, -0.910, -0.677, -1.181, -1.209, -1.168, -1.157];
var calloutAx = [95, 93, 90, 91, 86, 84, 80];
var calloutAy = [18, 19, 24, 17, -46, -44, -44];
for (var j = 0; j < rainLabels.length; j++) {
  ann.push({xref: 'x2', yref: 'y3', x: calloutX[j], y: calloutY[j], ax: calloutAx[j], ay: calloutAy[j],
            text: rainLabels[j], showarrow: true, arrowhead: 3, arrowsize: 1, arrowwidth: 2.5,
            arrowcolor: BLUE, standoff: 0, font: {family: FONT, size: 32, color: BLUE}});
}

Plotly.newPlot('chart', traces, layout, {displayModeBar: false, staticPlot: true});
</script>
</body>
</html>
